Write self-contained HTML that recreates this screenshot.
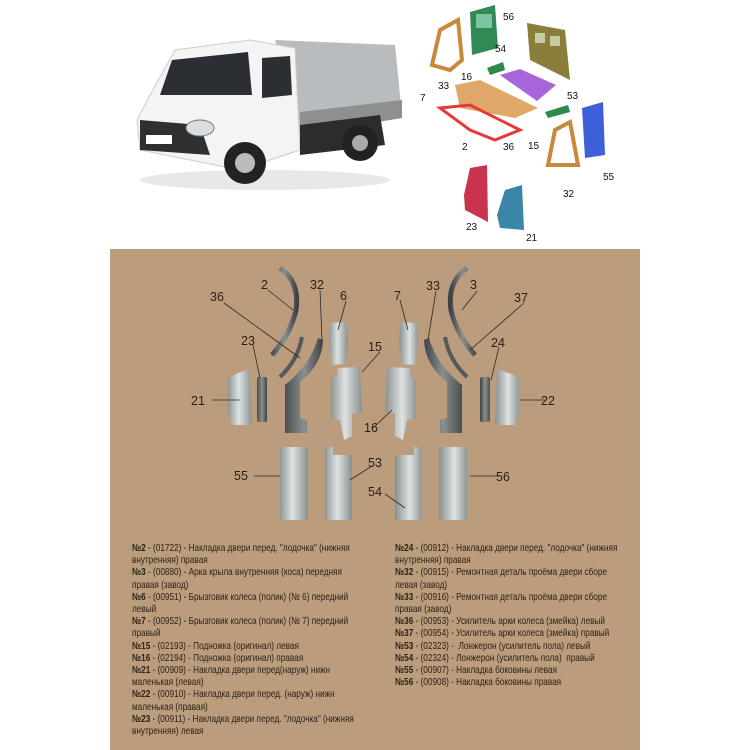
<!DOCTYPE html>
<html><head><meta charset="utf-8"><style>
body{margin:0;width:750px;height:750px;background:#fff;overflow:hidden;position:relative;font-family:"Liberation Sans",sans-serif}
svg{position:absolute;left:0;top:0}
.col{position:absolute;top:543px;font-family:"Liberation Sans Narrow","Liberation Sans",sans-serif;font-size:10.4px;line-height:12.2px;color:#2a2118;white-space:nowrap;transform:scaleX(0.79);transform-origin:0 0}
.col b{font-weight:bold}
</style></head><body>
<svg width="750" height="750" viewBox="0 0 750 750">
<defs>
<linearGradient id="m" x1="0" x2="1"><stop offset="0" stop-color="#8f9696"/><stop offset=".45" stop-color="#dde2e2"/><stop offset="1" stop-color="#8a9090"/></linearGradient>
<linearGradient id="d" x1="0" x2="1"><stop offset="0" stop-color="#4a4e50"/><stop offset=".5" stop-color="#8a8f90"/><stop offset="1" stop-color="#3e4244"/></linearGradient>
</defs>
<rect x="110" y="249" width="530" height="501" fill="#bb9d7d"/>
<!-- truck -->
<g>
<ellipse cx="265" cy="180" rx="125" ry="10" fill="#e8e8e8"/>
<path d="M275 40 L395 45 L402 115 L300 135 L285 70Z" fill="#b9bcbe"/>
<path d="M300 112 L402 100 L402 118 L300 135Z" fill="#8e9090"/>
<path d="M175 50 L250 40 L295 48 L300 150 L240 170 L140 150 L137 120 L150 95Z" fill="#f4f4f4" stroke="#ccc" stroke-width="1"/>
<path d="M172 60 L248 52 L252 95 L160 95Z" fill="#2b2f33"/>
<path d="M262 58 L290 56 L292 95 L262 98Z" fill="#2b2f33"/>
<path d="M140 120 L200 125 L210 155 L140 150Z" fill="#2d2f31"/>
<rect x="146" y="135" width="26" height="9" fill="#fff"/>
<ellipse cx="200" cy="128" rx="14" ry="8" fill="#d9dde0" stroke="#777"/>
<path d="M300 125 L380 115 L385 145 L300 155Z" fill="#2c2c2c"/>
<circle cx="245" cy="163" r="21" fill="#222"/><circle cx="245" cy="163" r="10" fill="#bbb"/>
<circle cx="360" cy="143" r="18" fill="#222"/><circle cx="360" cy="143" r="8" fill="#aaa"/>
</g>
<!-- exploded diagram -->
<g stroke-width="1">
<path d="M432 65 L440 30 L458 20 L462 60 L450 70Z" fill="none" stroke="#c8893c" stroke-width="4"/>
<path d="M470 12 L495 5 L498 48 L472 55Z" fill="#2f8a55"/>
<rect x="476" y="14" width="16" height="14" fill="#cfe" opacity=".5"/>
<path d="M527 23 L565 30 L570 80 L530 60Z" fill="#8b7d3a"/>
<rect x="535" y="33" width="10" height="10" fill="#efe" opacity=".6"/><rect x="550" y="36" width="10" height="10" fill="#efe" opacity=".6"/>
<path d="M487 68 L503 62 L505 70 L490 75Z" fill="#2e8a4a"/>
<path d="M500 75 L520 69 L556 85 L537 101Z" fill="#a665d8"/>
<path d="M455 85 L480 80 L538 108 L515 118 L460 108Z" fill="#e0a868"/>
<path d="M440 108 L470 105 L520 130 L495 140 L470 130Z" fill="none" stroke="#e43a3a" stroke-width="3"/>
<path d="M545 112 L568 105 L570 112 L548 118Z" fill="#2e8a4a"/>
<path d="M582 108 L603 102 L605 155 L585 158Z" fill="#3d5fd8"/>
<path d="M548 165 L555 130 L570 122 L578 165Z" fill="none" stroke="#c8893c" stroke-width="4"/>
<path d="M464 195 L470 168 L487 165 L488 222 L465 210Z" fill="#c8344e"/>
<path d="M497 215 L505 190 L522 185 L524 230 L500 228Z" fill="#3a85a8"/>
</g>
<g font-family="Liberation Sans,sans-serif" font-size="10" fill="#111">
<text x="503" y="20">56</text><text x="495" y="52">54</text><text x="438" y="89">33</text><text x="461" y="80">16</text>
<text x="420" y="101">7</text><text x="567" y="99">53</text><text x="462" y="150">2</text><text x="503" y="150">36</text>
<text x="528" y="149">15</text><text x="603" y="180">55</text><text x="563" y="197">32</text><text x="466" y="230">23</text><text x="526" y="241">21</text>
</g>
<!-- panel parts left -->
<g id="L">
<path d="M280 268 Q300 282 296 310 Q290 335 272 355" fill="none" stroke="url(#d)" stroke-width="5"/>
<path d="M302 337 Q298 360 280 377" fill="none" stroke="#55595b" stroke-width="4"/>
<path d="M318 338 L323 340 Q322 365 300 382 L300 418 L307 420 L307 433 L285 433 L285 385 Q310 365 318 338Z" fill="url(#d)"/>
<path d="M330 323 L346 322 Q350 345 345 364 L332 365 L329 345Z" fill="url(#m)"/>
<path d="M337 368 L360 367 L362 412 L352 414 L352 436 L344 440 L340 420 L331 418 L331 378 L337 377Z" fill="url(#m)"/>
<path d="M228 378 Q240 371 250 370 L252 425 L233 425 Q228 420 228 410Z" fill="url(#m)"/>
<rect x="257" y="377" width="10" height="45" rx="2" fill="url(#d)"/>
<rect x="280" y="447" width="28" height="73" fill="url(#m)"/>
<path d="M325 447 L333 447 L333 455 L352 455 L352 520 L325 520Z" fill="url(#m)"/>
</g>
<use href="#L" transform="translate(747,0) scale(-1,1)"/>
<g stroke="#2a2a2a" stroke-width="0.8" fill="none">
<path d="M268 290 L293 310"/><path d="M224 303 L300 358"/><path d="M320 290 L322 340"/><path d="M346 301 L338 330"/>
<path d="M253 345 L260 378"/><path d="M380 352 L362 372"/><path d="M212 400 L240 400"/><path d="M254 476 L280 476"/>
<path d="M372 466 L350 480"/><path d="M400 300 L408 330"/><path d="M436 291 L428 340"/><path d="M477 291 L462 310"/>
<path d="M524 303 L470 350"/><path d="M499 347 L491 380"/><path d="M373 428 L392 410"/><path d="M520 400 L545 400"/>
<path d="M385 494 L405 508"/><path d="M470 476 L500 476"/>
</g>
<g font-family="Liberation Sans,sans-serif" font-size="12.5" fill="#2a1e14">
<text x="261" y="289">2</text><text x="310" y="289">32</text><text x="210" y="301">36</text><text x="340" y="300">6</text>
<text x="394" y="300">7</text><text x="426" y="290">33</text><text x="470" y="289">3</text><text x="514" y="302">37</text>
<text x="241" y="345">23</text><text x="368" y="351">15</text><text x="491" y="347">24</text>
<text x="191" y="405">21</text><text x="541" y="405">22</text><text x="364" y="432">16</text>
<text x="234" y="480">55</text><text x="368" y="467">53</text><text x="368" y="496">54</text><text x="496" y="481">56</text>
</g>
</svg>
<div class="col" style="left:132px">
<b>№2</b> - (01722) - Накладка двери перед. "лодочка" (нижняя<br>внутренняя) правая<br>
<b>№3</b> - (00880) - Арка крыла внутренняя (коса) передняя<br>правая (завод)<br>
<b>№6</b> - (00951) - Брызговик колеса (полик) (№ 6) передний<br>левый<br>
<b>№7</b> - (00952) - Брызговик колеса (полик) (№ 7) передний<br>правый<br>
<b>№15</b> - (02193) - Подножка (оригинал) левая<br>
<b>№16</b> - (02194) - Подножка (оригинал) правая<br>
<b>№21</b> - (00909) - Накладка двери перед(наруж) нижн<br>маленькая (левая)<br>
<b>№22</b> - (00910) - Накладка двери перед. (наруж) нижн<br>маленькая (правая)<br>
<b>№23</b> - (00911) - Накладка двери перед. "лодочка" (нижняя<br>внутренняя) левая
</div>
<div class="col" style="left:395px">
<b>№24</b> - (00912) - Накладка двери перед. "лодочка" (нижняя<br>внутренняя) правая<br>
<b>№32</b> - (00915) - Ремонтная деталь проёма двери сборе<br>левая (завод)<br>
<b>№33</b> - (00916) - Ремонтная деталь проёма двери сборе<br>правая (завод)<br>
<b>№36</b> - (00953) - Усилитель арки колеса (змейка) левый<br>
<b>№37</b> - (00954) - Усилитель арки колеса (змейка) правый<br>
<b>№53</b> - (02323) - &nbsp;Лонжерон (усилитель пола) левый<br>
<b>№54</b> - (02324) - Лонжерон (усилитель пола) &nbsp;правый<br>
<b>№55</b> - (00907) - Накладка боковины левая<br>
<b>№56</b> - (00908) - Накладка боковины правая
</div>
</body></html>
